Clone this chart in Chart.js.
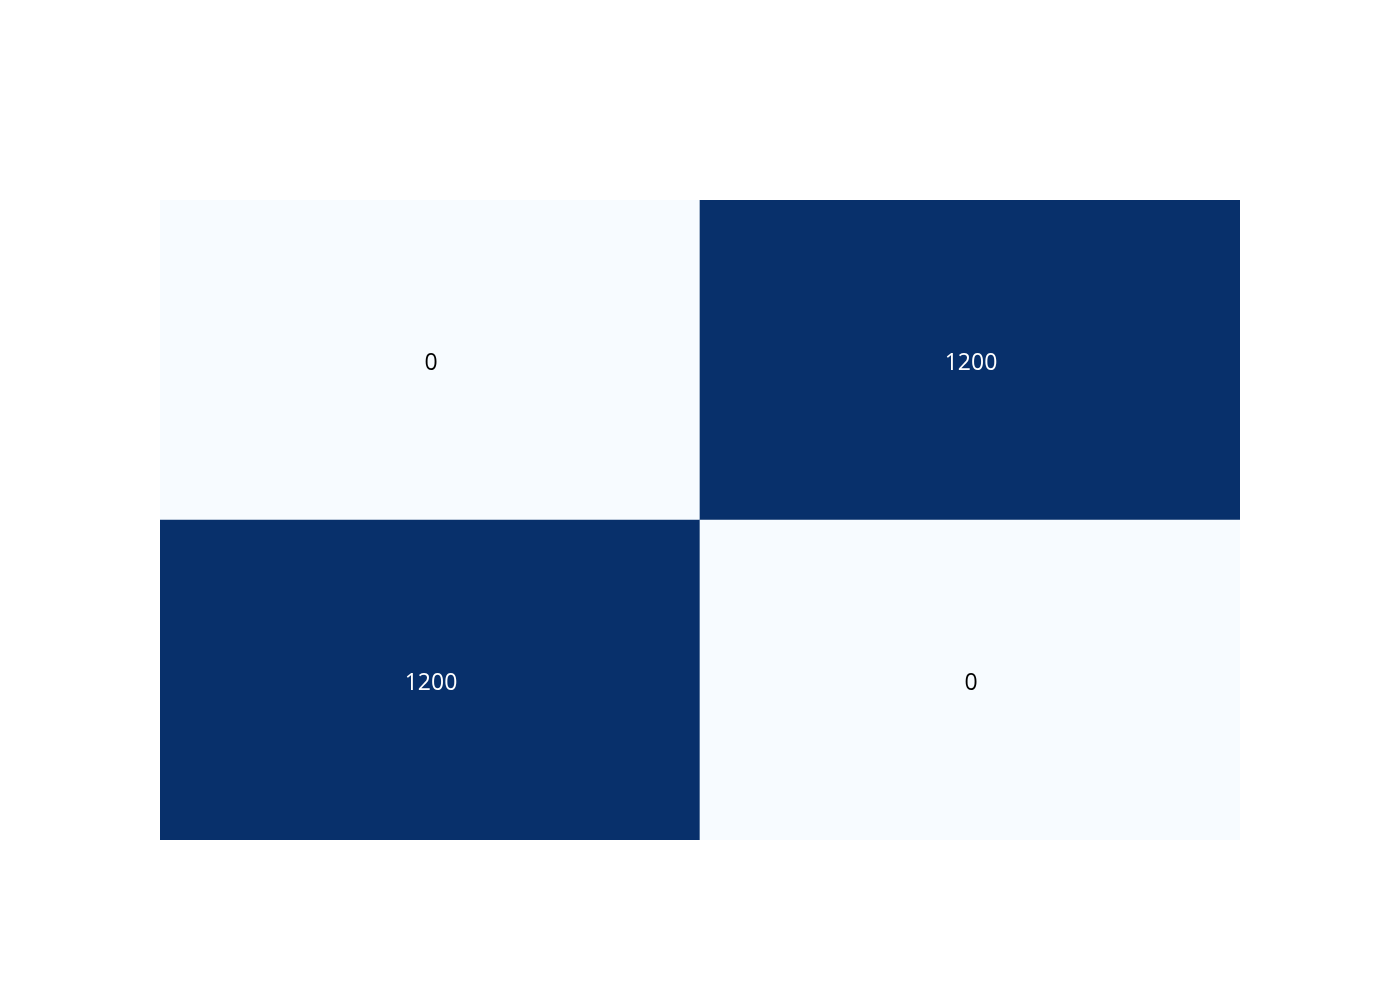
<!DOCTYPE html>
<html>
<head>
<meta charset="utf-8">
<script src="https://cdn.jsdelivr.net/npm/chart.js@4/dist/chart.umd.min.js"></script>
<style>
  html, body { margin: 0; padding: 0; background: #ffffff; }
  #wrap { width: 1400px; height: 1000px; }
</style>
</head>
<body>
<div id="wrap"><canvas id="c" width="1400" height="1000"></canvas></div>
<script>
// Columns (x categories) and rows (y categories, bottom to top)
const xCategories = ['0', '1'];
const yCategories = ['0', '1'];
// z values per row, bottom row first
const zBottomRow = [1200, 0];
const zTopRow = [0, 1200];
const zRows = [zBottomRow, zTopRow];

const zMin = 0, zMax = 1200;
const lowColor = [247, 251, 255];  // #f7fbff
const highColor = [8, 48, 107];    // #08306b

function colorFor(v) {
  const t = (v - zMin) / (zMax - zMin);
  const c = lowColor.map((l, i) => Math.round(l + (highColor[i] - l) * t));
  return `rgb(${c[0]},${c[1]},${c[2]})`;
}
function textColorFor(v) {
  const t = (v - zMin) / (zMax - zMin);
  return t > 0.5 ? '#ffffff' : '#000000';
}

const datasets = zRows.map((row, ri) => ({
  label: 'row ' + yCategories[ri],
  data: row.map(() => 1),
  zValues: row,
  backgroundColor: row.map(colorFor),
  borderWidth: 0,
  barPercentage: 1.0,
  categoryPercentage: 1.0,
  stack: 'heat'
}));

const labelPlugin = {
  id: 'cellLabels',
  afterDatasetsDraw(chart) {
    const ctx = chart.ctx;
    ctx.save();
    ctx.font = '23px "Open Sans"';
    ctx.textAlign = 'center';
    ctx.textBaseline = 'middle';
    chart.data.datasets.forEach((ds, di) => {
      const meta = chart.getDatasetMeta(di);
      meta.data.forEach((el, i) => {
        const v = ds.zValues[i];
        const cx = el.x + 1;
        const cy = (el.y + el.base) / 2 + 3;
        ctx.fillStyle = textColorFor(v);
        ctx.fillText(String(v), cx, cy);
      });
    });
    ctx.restore();
  }
};

new Chart(document.getElementById('c'), {
  type: 'bar',
  data: { labels: xCategories, datasets },
  options: {
    responsive: false,
    animation: false,
    layout: { padding: { left: 160, right: 160, top: 200, bottom: 160 } },
    plugins: { legend: { display: false }, tooltip: { enabled: false } },
    scales: {
      x: { display: false, stacked: true, offset: true },
      y: { display: false, stacked: true, min: 0, max: 2 }
    }
  },
  plugins: [labelPlugin]
});
</script>
</body>
</html>
